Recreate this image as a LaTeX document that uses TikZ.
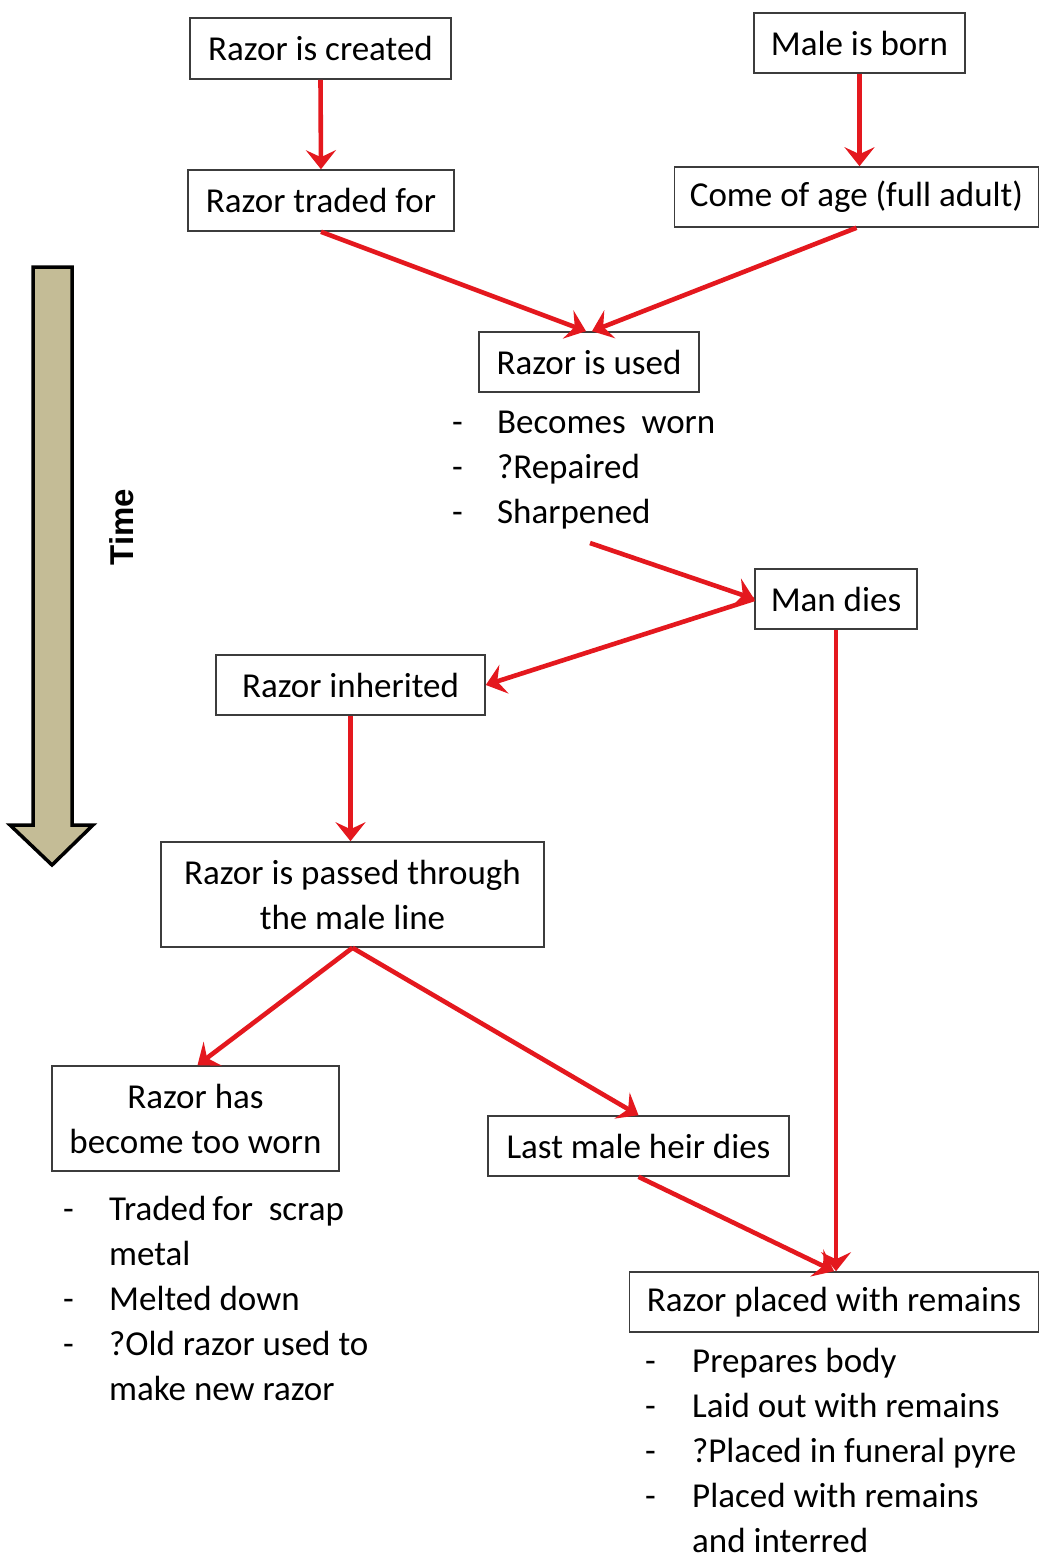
\documentclass[tikz,border=0pt]{standalone}
\usepackage{fontspec}
\setmainfont{Carlito}
\newfontfamily\timefont{Liberation Sans}
\usetikzlibrary{arrows.meta}
\definecolor{arrred}{RGB}{228,24,30}
\definecolor{boxgray}{RGB}{60,60,60}
\definecolor{tan}{RGB}{196,188,150}
\tikzset{
  box/.style={draw=boxgray, line width=1.6pt, inner sep=0pt, align=center,
    font=\fontsize{35}{45}\selectfont},
  conn/.style={draw=arrred, line width=4.6pt,
    -{Stealth[length=19pt, width=30pt, inset=7pt]}},
  listtxt/.style={inner sep=0pt, anchor=north west,
    font=\fontsize{35}{45}\selectfont},
}
\begin{document}
\begin{tikzpicture}[x=1pt, y=-1pt]
\useasboundingbox (0,0) rectangle (1040,1560);
\fill[white] (0,0) rectangle (1040,1560);

% Time arrow
\filldraw[fill=tan, draw=black, line width=3.5pt, line join=miter]
  (33,267) -- (72,267) -- (72,825) -- (93,825) -- (52,865) -- (10,825) -- (33,825) -- cycle;
\node[rotate=90, font=\timefont\bfseries\fontsize{33}{40}\selectfont] (time) at (122,527) {Time};

% boxes
\node[box, minimum width=261pt, minimum height=61pt] (created) at (320.5,48.5) {Razor is created};
\node[box, minimum width=211pt, minimum height=60pt] (born) at (859.5,43) {Male is born};
\node[box, minimum width=266pt, minimum height=61pt] (traded) at (321,200.5) {Razor traded for};
\node[box, minimum width=364pt, minimum height=60pt] (age) at (856.5,197) {Come of age (full adult)};
\node[box, minimum width=220pt, minimum height=60pt] (used) at (589,362) {Razor is used};
\node[box, minimum width=162pt, minimum height=60pt] (mandies) at (836,599) {Man dies};
\node[box, minimum width=269pt, minimum height=60pt] (inherited) at (350.5,685) {Razor inherited};
\node[box, minimum width=383pt, minimum height=105pt] (passed) at (352.5,894.5) {Razor is passed through\\the male line};
\node[box, minimum width=287pt, minimum height=105pt] (worn) at (195.5,1118.5) {Razor has\\become too worn};
\node[box, minimum width=301pt, minimum height=60pt] (last) at (638.5,1146) {Last male heir dies};
\node[box, minimum width=409pt, minimum height=60pt] (placed) at (834,1302) {Razor placed with remains};

% lists
\node[listtxt] (list1) at (452,401.5) {\begin{tabular}{@{}p{45pt}@{}l@{}}
-& Becomes\ \ worn\\ -& ?Repaired\\ -& Sharpened\end{tabular}};
\node[listtxt] (list2) at (63,1188.5) {\begin{tabular}{@{}p{46pt}@{}l@{}}
-& Traded\,for\ \ scrap\\ & metal\\ -& Melted down\\ -& ?Old razor used to\\ & make new razor\end{tabular}};
\node[listtxt] (list3) at (645,1340.5) {\begin{tabular}{@{}p{47pt}@{}l@{}}
-& Prepares body\\ -& Laid out with remains\\ -& ?Placed in funeral pyre\\ -& Placed with remains\\ & and interred\end{tabular}};

\coordinate (sharp) at (590,543);

% connectors
\draw[conn] (created.south) -- (traded.north);
\draw[conn] (born.south) -- (born.south |- age.north);
\draw[conn] (traded.south) -- ([xshift=-3pt]used.north);
\draw[conn] (age.south) -- ([xshift=3pt]used.north);
\draw[conn] (sharp) -- (mandies.west);
\draw[conn] (mandies.west) -- (inherited.east);
\draw[conn] (inherited.south) -- (inherited.south |- passed.north);
\draw[conn] (passed.south) -- ([xshift=2pt]worn.north);
\draw[conn] (passed.south) -- (last.north);
\draw[conn] (last.south) -- (placed.north);
\draw[conn] (mandies.south) -- (mandies.south |- placed.north);
\end{tikzpicture}
\end{document}
